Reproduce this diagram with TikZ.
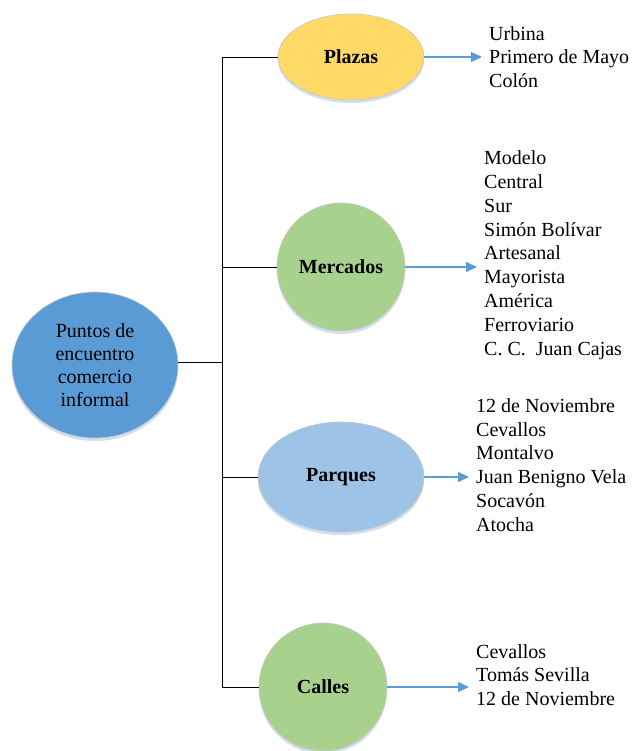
\documentclass[tikz,border=0pt]{standalone}
\usepackage{fontspec}
\setmainfont{Liberation Serif}
\usetikzlibrary{shapes.geometric,arrows.meta}
\definecolor{cblue}{HTML}{5B9BD5}
\definecolor{cyellow}{HTML}{FFD966}
\definecolor{cgreen}{HTML}{A9D18E}
\definecolor{clblue}{HTML}{9DC3E6}
\definecolor{cshadow}{HTML}{D3DEEE}
\tikzset{
  bubble/.style={draw=black!22, line width=0.6pt, inner sep=0pt, align=center,
    font=\fontsize{20}{23}\selectfont,
    preaction={fill=cshadow, transform canvas={yshift=-3pt}}},
  elli/.style={bubble, ellipse},
  circ/.style={bubble, circle},
  listtxt/.style={anchor=west, inner sep=0pt, align=left, font=\fontsize{20}{23.8}\selectfont},
  conn/.style={draw=black, line width=0.9pt},
  arr/.style={draw=cblue, line width=1.3pt, -{Triangle[length=11pt,width=10pt]}, shorten >=7pt}
}
\begin{document}
\begin{tikzpicture}[x=1pt,y=-1pt]
\useasboundingbox (0,0) rectangle (633,751);
% nodes
\node[elli, fill=cblue, minimum width=166pt, minimum height=146pt] (c) at (95,365)
  {Puntos de\\encuentro\\comercio\\informal};
\node[elli, fill=cyellow, minimum width=146pt, minimum height=86pt] (p) at (351,57) {\textbf{Plazas}};
\node[circ, fill=cgreen, minimum size=128pt] (m) at (341,267) {\textbf{Mercados}};
\node[elli, fill=clblue, minimum width=166pt, minimum height=110pt] (q) at (341,477) {\textbf{Parques}};
\node[circ, fill=cgreen, minimum size=128pt] (k) at (323,687) {\textbf{Calles}};
% lists
\node[listtxt] (pl) at (489,57) {Urbina\\Primero de Mayo\\Colón};
\node[listtxt] (ml) at (484,255) {Modelo\\Central\\Sur\\Simón Bolívar\\Artesanal\\Mayorista\\América\\Ferroviario\\C. C.\ \ Juan Cajas};
\node[listtxt] (ql) at (476,465) {12 de Noviembre\\Cevallos\\Montalvo\\Juan Benigno Vela\\Socavón\\Atocha};
\node[listtxt] (kl) at (476,675) {Cevallos\\Tomás Sevilla\\12 de Noviembre};
% trunk
\coordinate (t0) at (222,57);
\coordinate (t1) at (222,687);
\draw[conn] (t0) -- (t1);
\draw[conn] ([yshift=3pt]c.east) -- ([yshift=3pt]c.east -| t0);
\draw[conn] (p.west) -- (p.west -| t0);
\draw[conn] (m.west) -- (m.west -| t0);
\draw[conn] (q.west) -- (q.west -| t0);
\draw[conn] (k.west) -- (k.west -| t0);
% arrows
\draw[arr] (p.east) -- (p.east -| pl.west);
\draw[arr] (m.east) -- (m.east -| ml.west);
\draw[arr] (q.east) -- (q.east -| ql.west);
\draw[arr] (k.east) -- (k.east -| kl.west);
\end{tikzpicture}
\end{document}
